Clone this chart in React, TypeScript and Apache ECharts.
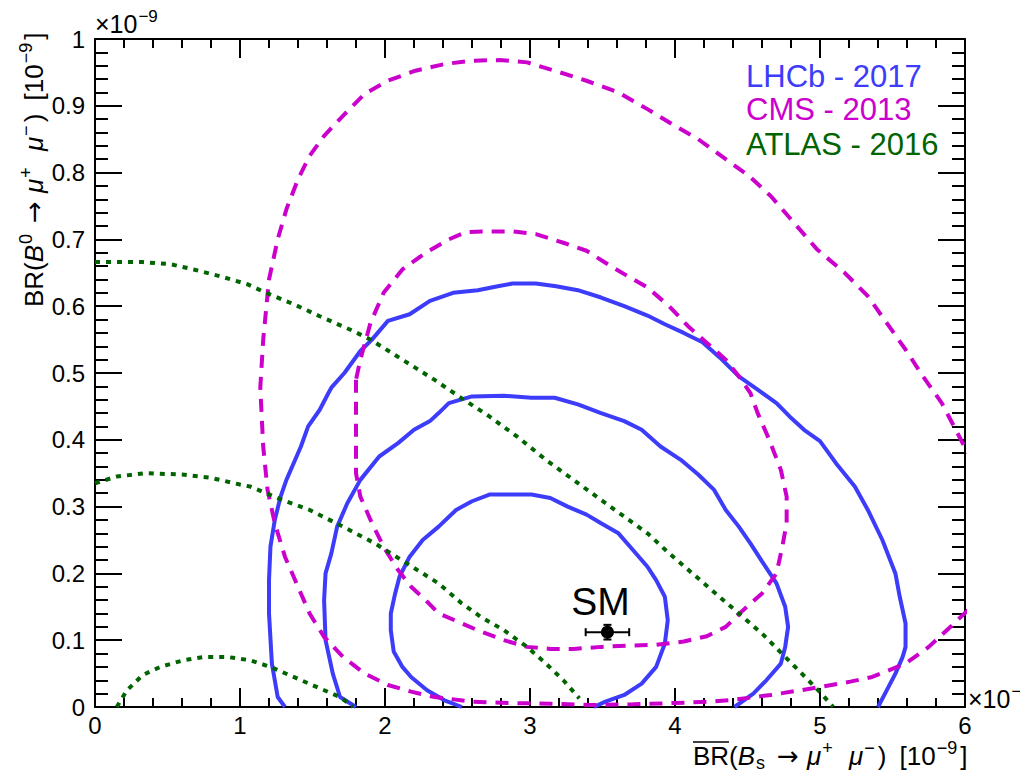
import React, { useEffect, useRef } from 'react';
import * as echarts from 'echarts';

const FONT = "'Liberation Sans', Arial, Helvetica, sans-serif";
const BLUE = '#3c3cfa';
const MAGENTA = '#cc00cc';
const GREEN = '#006400';

// LHCb 2017 likelihood contours (x: BR(Bs->mumu), y: BR(B0->mumu), units 1e-9)
const lhcbOuter: number[][] = [
  [1.31, 0.0], [1.26, 0.015], [1.22, 0.065], [1.2, 0.14], [1.2, 0.19], [1.21, 0.24], [1.24, 0.28],
  [1.28, 0.315], [1.32, 0.34], [1.37, 0.365], [1.42, 0.39], [1.47, 0.42], [1.55, 0.445], [1.61, 0.47],
  [1.63, 0.478], [1.72, 0.5], [1.83, 0.533], [1.91, 0.55], [2.02, 0.578], [2.17, 0.588], [2.31, 0.608],
  [2.47, 0.62], [2.64, 0.624], [2.76, 0.629], [2.88, 0.634], [3.04, 0.634], [3.18, 0.63], [3.33, 0.624],
  [3.49, 0.613], [3.65, 0.6], [3.81, 0.586], [3.93, 0.573], [4.06, 0.56], [4.19, 0.546], [4.31, 0.523],
  [4.44, 0.495], [4.57, 0.475], [4.7, 0.455], [4.79, 0.435], [4.89, 0.415], [5.0, 0.398], [5.11, 0.365],
  [5.24, 0.33], [5.33, 0.295], [5.43, 0.25], [5.52, 0.2], [5.55, 0.165], [5.59, 0.125], [5.59, 0.09],
  [5.57, 0.075], [5.52, 0.05], [5.46, 0.025], [5.4, 0.0],
];
const lhcbMiddle: number[][] = [
  [1.8, 0.0], [1.69, 0.015], [1.64, 0.05], [1.59, 0.1], [1.58, 0.16], [1.59, 0.2], [1.63, 0.23],
  [1.67, 0.27], [1.74, 0.305], [1.83, 0.34], [1.96, 0.375], [2.09, 0.395], [2.2, 0.415], [2.31, 0.428],
  [2.37, 0.44], [2.44, 0.455], [2.6, 0.465], [2.82, 0.466], [3.01, 0.463], [3.17, 0.463], [3.33, 0.453],
  [3.49, 0.44], [3.65, 0.428], [3.77, 0.415], [3.9, 0.39], [4.04, 0.37], [4.16, 0.348], [4.27, 0.325],
  [4.35, 0.295], [4.44, 0.27], [4.52, 0.245], [4.6, 0.218], [4.7, 0.185], [4.76, 0.15], [4.78, 0.12],
  [4.76, 0.09], [4.73, 0.065], [4.63, 0.04], [4.54, 0.02], [4.41, 0.0],
];
const lhcbInner: number[][] = [
  [2.53, 0.0], [2.41, 0.01], [2.29, 0.025], [2.18, 0.045], [2.12, 0.06], [2.06, 0.083], [2.04, 0.115],
  [2.04, 0.14], [2.07, 0.17], [2.1, 0.195], [2.17, 0.225], [2.26, 0.25], [2.37, 0.27], [2.49, 0.295],
  [2.6, 0.308], [2.72, 0.318], [2.88, 0.318], [3.01, 0.318], [3.14, 0.313], [3.26, 0.3], [3.39, 0.288],
  [3.49, 0.275], [3.61, 0.26], [3.71, 0.235], [3.81, 0.21], [3.87, 0.19], [3.93, 0.165], [3.95, 0.13],
  [3.93, 0.095], [3.87, 0.06], [3.77, 0.035], [3.65, 0.018], [3.52, 0.008], [3.44, 0.0],
];

// CMS 2013 contours
const cmsOuter: number[][] = [
  [6.02, 0.145], [5.9, 0.12], [5.75, 0.09], [5.59, 0.065], [5.36, 0.045], [5.21, 0.038], [4.95, 0.028],
  [4.66, 0.018], [4.41, 0.011], [4.25, 0.008], [4.0, 0.006], [3.71, 0.004], [3.42, 0.003], [3.14, 0.005],
  [2.85, 0.006], [2.6, 0.008], [2.34, 0.015], [2.18, 0.023], [2.02, 0.033], [1.86, 0.05], [1.71, 0.075],
  [1.58, 0.105], [1.48, 0.14], [1.39, 0.185], [1.31, 0.225], [1.24, 0.275], [1.19, 0.325], [1.16, 0.39],
  [1.14, 0.478], [1.16, 0.55], [1.2, 0.64], [1.26, 0.7], [1.32, 0.745], [1.4, 0.79], [1.48, 0.825],
  [1.58, 0.855], [1.71, 0.885], [1.86, 0.918], [2.02, 0.9375], [2.21, 0.9525], [2.41, 0.9625],
  [2.6, 0.9675], [2.79, 0.9685], [2.98, 0.965], [3.17, 0.9525], [3.39, 0.9375], [3.61, 0.92],
  [3.81, 0.895], [4.0, 0.87], [4.16, 0.85], [4.35, 0.82], [4.51, 0.795], [4.66, 0.765], [4.82, 0.725],
  [4.98, 0.685], [5.17, 0.65], [5.33, 0.615], [5.46, 0.575], [5.59, 0.535], [5.71, 0.495], [5.84, 0.455],
  [6.02, 0.38],
];
const cmsInner: number[][] = [
  [1.8, 0.49], [1.8, 0.415], [1.8, 0.35], [1.83, 0.315], [1.9, 0.28], [1.99, 0.24], [2.09, 0.205],
  [2.18, 0.18], [2.28, 0.16], [2.37, 0.14], [2.5, 0.128], [2.66, 0.113], [2.82, 0.1], [2.98, 0.09],
  [3.14, 0.087], [3.3, 0.087], [3.49, 0.09], [3.68, 0.092], [3.87, 0.093], [4.06, 0.098], [4.22, 0.106],
  [4.35, 0.12], [4.47, 0.145], [4.6, 0.17], [4.7, 0.2], [4.74, 0.24], [4.77, 0.275], [4.77, 0.315],
  [4.73, 0.355], [4.65, 0.4], [4.57, 0.44], [4.52, 0.47], [4.44, 0.495], [4.35, 0.52], [4.22, 0.545],
  [4.09, 0.57], [3.96, 0.6], [3.81, 0.628], [3.65, 0.648], [3.52, 0.665], [3.39, 0.683], [3.23, 0.695],
  [3.04, 0.708], [2.88, 0.712], [2.72, 0.712], [2.56, 0.711], [2.44, 0.7], [2.28, 0.68], [2.12, 0.655],
  [1.99, 0.62], [1.9, 0.575], [1.83, 0.52], [1.8, 0.49],
];

// ATLAS 2016 contours
const atlasOuter: number[][] = [
  [0.0, 0.666], [0.33, 0.666], [0.52, 0.663], [0.68, 0.655], [0.86, 0.645], [1.05, 0.633], [1.18, 0.62],
  [1.37, 0.603], [1.55, 0.585], [1.78, 0.563], [1.9, 0.55], [2.12, 0.52], [2.34, 0.49], [2.53, 0.462],
  [2.72, 0.435], [2.91, 0.405], [3.11, 0.37], [3.3, 0.34], [3.49, 0.31], [3.65, 0.285], [3.81, 0.26],
  [3.96, 0.23], [4.12, 0.2], [4.28, 0.17], [4.44, 0.14], [4.6, 0.11], [4.76, 0.075], [4.92, 0.04],
  [5.01, 0.02], [5.09, 0.0],
];
const atlasMiddle: number[][] = [
  [0.0, 0.335], [0.15, 0.345], [0.35, 0.35], [0.6, 0.348], [0.8, 0.343], [1.0, 0.333], [1.07, 0.33],
  [1.29, 0.31], [1.48, 0.295], [1.71, 0.27], [1.93, 0.245], [2.15, 0.215], [2.37, 0.185], [2.53, 0.155],
  [2.66, 0.135], [2.82, 0.115], [2.98, 0.09], [3.11, 0.065], [3.23, 0.04], [3.34, 0.013],
];
const atlasInner: number[][] = [
  [0.15, 0.0], [0.22, 0.025], [0.33, 0.048], [0.45, 0.06], [0.61, 0.07], [0.75, 0.075], [0.91, 0.075],
  [1.07, 0.07], [1.21, 0.06], [1.37, 0.045], [1.55, 0.028], [1.69, 0.015], [1.78, 0.0],
];

// Standard Model prediction with uncertainties
const smPoint = [3.534, 0.112];
const smErr = [0.15, 0.011];

const legendItems = [
  { text: 'LHCb - 2017', color: BLUE },
  { text: 'CMS - 2013', color: MAGENTA },
  { text: 'ATLAS - 2016', color: GREEN },
];

const richFor = (s: number) => {
  const ss = Math.round(s * 0.68);
  return {
    r: { fontSize: s, lineHeight: s, fontFamily: FONT, fill: '#000', verticalAlign: 'middle' },
    i: { fontSize: s, lineHeight: s, fontFamily: FONT, fontStyle: 'italic', fill: '#000', verticalAlign: 'middle' },
    sp: { fontSize: s, lineHeight: s, fontFamily: FONT, fill: '#000', verticalAlign: 'middle', padding: [0, 3, 0, 3] },
    arr: {
      fontSize: s, lineHeight: s, fontFamily: "'DejaVu Sans', " + FONT, fill: '#000',
      verticalAlign: 'middle', padding: [0, 8, 0, 8],
    },
    sup: {
      fontSize: ss, lineHeight: ss, fontFamily: FONT, fill: '#000', verticalAlign: 'middle',
      padding: [0, 3, Math.round(s * 0.62), 1],
    },
    sub: {
      fontSize: ss, lineHeight: ss, fontFamily: FONT, fill: '#000', verticalAlign: 'middle',
      padding: [Math.round(s * 0.5), 4, 0, 1],
    },
  };
};

const axisCommon = (tickLen: number, minorLen: number) => ({
  type: 'value',
  axisLine: { show: true, onZero: false, lineStyle: { color: '#000', width: 2 } },
  axisTick: { show: true, inside: true, length: tickLen, lineStyle: { color: '#000', width: 2 } },
  minorTick: { show: true, splitNumber: 5, length: minorLen, lineStyle: { color: '#000', width: 2 } },
  splitLine: { show: false },
  minorSplitLine: { show: false },
});

const lineSeries = (data: number[][], color: string, type: any, z: number) => ({
  type: 'line',
  data,
  showSymbol: false,
  symbol: 'none',
  silent: true,
  z,
  lineStyle: { color, width: 4, type, cap: 'butt' },
});

export default function App() {
  const ref = useRef<HTMLDivElement>(null);

  useEffect(() => {
    const chart = echarts.init(ref.current!, null, { renderer: 'svg' });
    const option: any = {
      animation: false,
      backgroundColor: '#fff',
      grid: { left: 95, right: 55, top: 39, bottom: 69, containLabel: false, outerBoundsMode: 'none' },
      xAxis: [
        {
          ...axisCommon(19, 9), min: 0, max: 6, interval: 1, position: 'bottom',
          axisLabel: { color: '#000', fontSize: 24, fontFamily: FONT, margin: 6 },
        },
        {
          ...axisCommon(19, 9), min: 0, max: 6, interval: 1, position: 'top',
          axisLabel: { show: false },
        },
      ],
      yAxis: [
        {
          ...axisCommon(27, 13), min: 0, max: 1, interval: 0.1, position: 'left',
          axisLabel: { color: '#000', fontSize: 24, fontFamily: FONT, margin: 10 },
        },
        {
          ...axisCommon(27, 13), min: 0, max: 1, interval: 0.1, position: 'right',
          axisLabel: { show: false },
        },
      ],
      series: [
        lineSeries(lhcbOuter, BLUE, 'solid', 2),
        lineSeries(lhcbMiddle, BLUE, 'solid', 2),
        lineSeries(lhcbInner, BLUE, 'solid', 2),
        lineSeries(cmsOuter, MAGENTA, [13, 9], 3),
        lineSeries(cmsInner, MAGENTA, [13, 9], 3),
        lineSeries(atlasOuter, GREEN, [5, 6], 4),
        lineSeries(atlasMiddle, GREEN, [5, 6], 4),
        lineSeries(atlasInner, GREEN, [5, 6], 4),
        {
          type: 'custom',
          z: 6,
          silent: true,
          data: [[smPoint[0], smPoint[1], smErr[0], smErr[1]]],
          encode: { x: 0, y: 1 },
          renderItem: (_params: any, api: any) => {
            const x = api.value(0);
            const y = api.value(1);
            const ex = api.value(2);
            const ey = api.value(3);
            const l = api.coord([x - ex, y]);
            const r = api.coord([x + ex, y]);
            const b = api.coord([x, y - ey]);
            const t = api.coord([x, y + ey]);
            const st = { stroke: '#000', lineWidth: 2 };
            const cap = 4;
            return {
              type: 'group',
              children: [
                { type: 'line', shape: { x1: l[0], y1: l[1], x2: r[0], y2: r[1] }, style: st },
                { type: 'line', shape: { x1: l[0], y1: l[1] - cap, x2: l[0], y2: l[1] + cap }, style: st },
                { type: 'line', shape: { x1: r[0], y1: r[1] - cap, x2: r[0], y2: r[1] + cap }, style: st },
                { type: 'line', shape: { x1: b[0], y1: b[1], x2: t[0], y2: t[1] }, style: st },
                { type: 'line', shape: { x1: b[0] - cap, y1: b[1], x2: b[0] + cap, y2: b[1] }, style: st },
                { type: 'line', shape: { x1: t[0] - cap, y1: t[1], x2: t[0] + cap, y2: t[1] }, style: st },
              ],
            };
          },
        },
        {
          type: 'scatter',
          z: 7,
          silent: true,
          data: [smPoint],
          symbol: 'circle',
          symbolSize: 13,
          itemStyle: { color: '#000', opacity: 1 },
          label: {
            show: true,
            formatter: 'SM',
            position: 'top',
            distance: 5,
            offset: [-7, 0],
            color: '#000',
            opacity: 1,
            textBorderWidth: 0,
            textBorderColor: 'transparent',
            fontSize: 39,
            fontFamily: FONT,
          },
        },
      ],
      graphic: [
        {
          type: 'text', x: 693, y: 756, z: 10,
          style: {
            text: '{r|BR(}{i|B}{sub|s}{arr|→}{i|μ}{sup|+}{sp| }{i|μ}{sup|−}{r|)}{sp| }{r|[10}{sup|−9}{r|]}',
            rich: richFor(26), align: 'left', verticalAlign: 'middle',
          },
        },
        {
          type: 'line', z: 10,
          shape: { x1: 693, y1: 742, x2: 729, y2: 742 },
          style: { stroke: '#000', lineWidth: 1.5 },
        },
        {
          type: 'text', x: 34, y: 307, rotation: Math.PI / 2, z: 10,
          style: {
            text: '{r|BR(}{i|B}{sup|0}{arr|→}{i|μ}{sup|+}{sp| }{i|μ}{sup|−}{r|)}{sp| }{r|[10}{sup|−9}{r|]}',
            rich: richFor(26), align: 'left', verticalAlign: 'middle',
          },
        },
        {
          type: 'text', x: 95, y: 24, z: 10,
          style: { text: '{r|×10}{sup|−9}', rich: richFor(25), align: 'left', verticalAlign: 'middle' },
        },
        {
          type: 'text', x: 968, y: 699, z: 10,
          style: { text: '{r|×10}{sup|−9}', rich: richFor(25), align: 'left', verticalAlign: 'middle' },
        },
        ...legendItems.map((it, i) => ({
          type: 'text', x: 746, y: [76, 109, 144][i], z: 10,
          style: {
            text: it.text, fill: it.color, fontSize: 31, fontFamily: FONT,
            align: 'left', verticalAlign: 'middle',
          },
        })),
      ],
    };
    chart.setOption(option);
    return () => chart.dispose();
  }, []);

  return (
    <div
      ref={ref}
      style={{ position: 'fixed', left: 0, top: 0, width: 1020, height: 776, background: '#fff' }}
    />
  );
}
